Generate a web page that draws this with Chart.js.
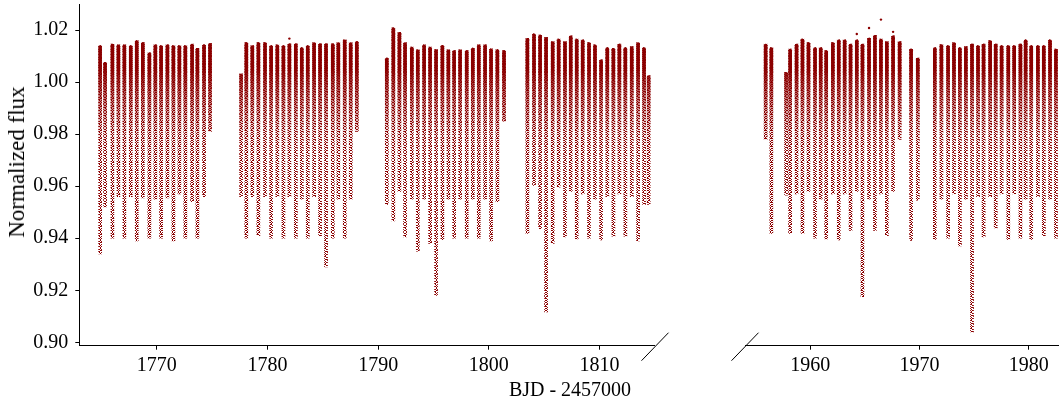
<!DOCTYPE html>
<html>
<head>
<meta charset="utf-8">
<script src="https://cdn.jsdelivr.net/npm/chart.js@4.4.1/dist/chart.umd.min.js"></script>
<style>
  body { margin: 0; background: #fff; width: 1062px; height: 407px; overflow: hidden; position: relative; font-family: "Liberation Serif", serif; }
  #cl { position: absolute; left: 0; top: 0; }
  #cr { position: absolute; left: 700px; top: 0; }
  #xlab { position: absolute; left: 470px; width: 200px; top: 378px; text-align: center; font-size: 20px; color: #000; }
  #ylab { position: absolute; left: 17px; top: 162px; width: 0; height: 0; }
  #ylab span { position: absolute; transform: translate(-50%, -50%) rotate(-90deg); white-space: nowrap; font-size: 23px; color: #000; }
</style>
</head>
<body>
<canvas id="cl" width="700" height="407"></canvas>
<canvas id="cr" width="362" height="407"></canvas>
<div id="xlab">BJD - 2457000</div>
<div id="ylab"><span>Normalized flux</span></div>
<script>
// one entry per pulsation cycle: time of the streak, highest and lowest flux
const leftTimes = [
  1764.88, 1765.33, 1765.99, 1766.53, 1767.07, 1767.65, 1768.19, 1768.74, 1769.33, 1769.87,
  1770.39, 1770.96, 1771.50, 1772.04, 1772.58, 1773.19, 1773.67, 1774.27, 1774.81,
  1777.62, 1778.09, 1778.63, 1779.18, 1779.78, 1780.33, 1780.89, 1781.44, 1781.98, 1782.56,
  1783.10, 1783.64, 1784.21, 1784.75, 1785.29, 1785.90, 1786.40, 1786.98, 1787.52, 1788.07,
  1790.78, 1791.37, 1791.92, 1792.43, 1793.04, 1793.58, 1794.15, 1794.69, 1795.23, 1795.80,
  1796.34, 1796.86, 1797.40, 1798.00, 1798.55, 1799.09, 1799.66, 1800.20, 1800.77, 1801.37,
  1803.48, 1804.08, 1804.63, 1805.17, 1805.77, 1806.31, 1806.88, 1807.40, 1807.94, 1808.48,
  1809.05, 1809.59, 1810.14, 1810.70, 1811.25, 1811.79, 1812.33, 1812.91, 1813.48, 1814.02, 1814.44
];
const leftMax = [
  1.0140, 1.0076, 1.0146, 1.0143, 1.0143, 1.0140, 1.0159, 1.0152, 1.0112, 1.0143,
  1.0140, 1.0143, 1.0140, 1.0140, 1.0140, 1.0146, 1.0130, 1.0143, 1.0149,
  1.0032, 1.0152, 1.0140, 1.0152, 1.0152, 1.0140, 1.0143, 1.0140, 1.0147, 1.0147,
  1.0133, 1.0140, 1.0152, 1.0147, 1.0147, 1.0147, 1.0152, 1.0162, 1.0152, 1.0156,
  1.0092, 1.0208, 1.0191, 1.0152, 1.0134, 1.0124, 1.0143, 1.0134, 1.0125, 1.0141,
  1.0124, 1.0121, 1.0124, 1.0121, 1.0131, 1.0143, 1.0143, 1.0128, 1.0125, 1.0121,
  1.0168, 1.0185, 1.0181, 1.0172, 1.0156, 1.0165, 1.0156, 1.0178, 1.0165, 1.0162,
  1.0152, 1.0143, 1.0085, 1.0133, 1.0130, 1.0146, 1.0133, 1.0136, 1.0152, 1.0133, 1.0025
];
const leftMin = [
  0.934, 0.952, 0.940, 0.956, 0.940, 0.956, 0.939, 0.9555, 0.940, 0.955,
  0.940, 0.9555, 0.939, 0.957, 0.940, 0.954, 0.940, 0.956, 0.981,
  0.956, 0.940, 0.956, 0.941, 0.956, 0.940, 0.956, 0.940, 0.956, 0.940,
  0.955, 0.940, 0.956, 0.941, 0.929, 0.940, 0.955, 0.940, 0.955, 0.981,
  0.953, 0.9466, 0.958, 0.9405, 0.955, 0.935, 0.955, 0.938, 0.918, 0.9394,
  0.955, 0.940, 0.955, 0.940, 0.955, 0.940, 0.955, 0.939, 0.954, 0.985,
  0.9418, 0.9603, 0.9437, 0.9117, 0.938, 0.9596, 0.9405, 0.958, 0.9397, 0.957,
  0.940, 0.955, 0.9393, 0.956, 0.9408, 0.957, 0.9408, 0.956, 0.939, 0.953, 0.953
];

const rightTimes = [
  1955.93, 1956.45,
  1957.80, 1958.17, 1958.76, 1959.30, 1959.85, 1960.45, 1960.97, 1961.47, 1962.08, 1962.62,
  1963.16, 1963.70, 1964.27, 1964.79, 1965.39, 1965.93, 1966.48, 1967.02, 1967.59, 1968.19,
  1969.24, 1969.85,
  1971.41, 1972.01, 1972.62, 1973.16, 1973.70, 1974.25, 1974.81, 1975.36, 1975.87, 1976.47,
  1976.98, 1977.52, 1978.13, 1978.67, 1979.24, 1979.72, 1980.23, 1980.84, 1981.38, 1981.95, 1982.49
];
const rightMax = [
  1.0146, 1.0133,
  1.0037, 1.0127, 1.0146, 1.0165, 1.0152, 1.0133, 1.0133, 1.0121, 1.0152, 1.0162,
  1.0162, 1.0146, 1.0162, 1.0146, 1.0169, 1.0180, 1.0165, 1.0156, 1.0178, 1.0156,
  1.0127, 1.0092,
  1.0133, 1.0144, 1.0140, 1.0152, 1.0133, 1.0136, 1.0146, 1.0140, 1.0146, 1.0159,
  1.0146, 1.0140, 1.0140, 1.0140, 1.0146, 1.0162, 1.0140, 1.0140, 1.0140, 1.0162, 1.0127
];
const rightMin = [
  0.978, 0.9418,
  0.9565, 0.9418, 0.957, 0.9418, 0.958, 0.940, 0.955, 0.9397, 0.957, 0.9393,
  0.957, 0.943, 0.958, 0.9175, 0.955, 0.943, 0.957, 0.941, 0.958, 0.978,
  0.9392, 0.9546,
  0.9395, 0.955, 0.940, 0.957, 0.937, 0.955, 0.904, 0.956, 0.9405, 0.956,
  0.944, 0.957, 0.9395, 0.957, 0.940, 0.955, 0.9395, 0.956, 0.941, 0.955, 0.940
];

// stray points above the pulsation peaks
const leftOutT = [1781.98];
const leftOutF = [1.0167];
const rightOutT = [1964.27, 1965.39, 1966.48, 1967.59];
const rightOutF = [1.0185, 1.0208, 1.0240, 1.0193];

const xTicksLeft = [1770, 1780, 1790, 1800, 1810];
const xTicksRight = [1960, 1970, 1980];
const yTicks = [0.90, 0.92, 0.94, 0.96, 0.98, 1.00, 1.02];

const RED = '139,0,0';
const tickFont = { family: 'Liberation Serif', size: 20 };

// dotted texture for the sparse lower part of each streak
function makeDots() {
  const c = document.createElement('canvas');
  c.width = 6; c.height = 8;
  const g = c.getContext('2d');
  g.fillStyle = 'rgb(' + RED + ')';
  const rows = [[0,1,4],[2,3,5],[0,4,5],[1,2,3],[0,3,5],[1,4],[0,2,3,5],[1,4]];
  rows.forEach((r, y) => r.forEach(x => g.fillRect(x, y, 1, 1)));
  return c;
}
const dotTile = makeDots();

function dotFill(context) {
  const chart = context.chart;
  if (!chart._dotPat) chart._dotPat = chart.ctx.createPattern(dotTile, 'repeat');
  return chart._dotPat;
}

// solid upper part that fades out towards the minima
function denseFill(context) {
  const chart = context.chart;
  if (!chart.chartArea) return 'rgba(' + RED + ',0.8)';
  if (chart._denseGrad) return chart._denseGrad;
  const y = chart.scales.y;
  const g = chart.ctx.createLinearGradient(0, y.getPixelForValue(1.02), 0, y.getPixelForValue(0.97));
  g.addColorStop(0, 'rgba(' + RED + ',1)');
  g.addColorStop(0.3, 'rgba(' + RED + ',1)');
  g.addColorStop(0.55, 'rgba(' + RED + ',0.5)');
  g.addColorStop(0.8, 'rgba(' + RED + ',0.1)');
  g.addColorStop(1, 'rgba(' + RED + ',0)');
  chart._denseGrad = g;
  return g;
}

const breakMarks = {
  id: 'breakMarks',
  afterDraw(chart, args, opts) {
    const { ctx, chartArea } = chart;
    const x = opts.side === 'right' ? chartArea.right + 1 : chartArea.left;
    const y = chartArea.bottom + 1;
    ctx.save();
    ctx.strokeStyle = '#000';
    ctx.lineWidth = 1;
    ctx.beginPath();
    ctx.moveTo(x - 13.5, y + 14);
    ctx.lineTo(x + 13.5, y - 14);
    ctx.stroke();
    ctx.restore();
  }
};

function noPad(s) {
  s.paddingLeft = 0; s.paddingRight = 0; s.paddingTop = 0; s.paddingBottom = 0;
}

function makePanel(id, times, maxs, mins, outT, outF, xmin, xmax, xticks, side) {
  const bars = times.map((t, i) => ({ x: t, y: [mins[i], maxs[i]] }));
  const outs = outT.map((t, i) => ({ x: t, y: outF[i] }));
  const isLeft = side === 'right';
  return new Chart(document.getElementById(id), {
    type: 'bar',
    data: {
      datasets: [
        { data: bars, backgroundColor: dotFill, borderWidth: 0, barThickness: 3, grouped: false },
        { data: bars, backgroundColor: denseFill, borderWidth: 0, barThickness: 3, grouped: false,
          borderSkipped: false, borderRadius: { topLeft: 1.5, topRight: 1.5, bottomLeft: 0, bottomRight: 0 } },
        {
          type: 'line',
          data: outs,
          showLine: false,
          pointRadius: 1.2,
          pointBackgroundColor: 'rgb(' + RED + ')',
          pointBorderWidth: 0
        }
      ]
    },
    options: {
      responsive: false,
      animation: false,
      events: [],
      layout: { padding: isLeft ? { top: 3.3, right: 46, left: 0, bottom: 0 } : { top: 3.3, right: 0, left: 45, bottom: 0 } },
      plugins: { legend: { display: false }, tooltip: { enabled: false }, breakMarks: { side: side } },
      scales: {
        x: {
          type: 'linear',
          min: xmin,
          max: xmax,
          offset: false,
          afterBuildTicks: s => { s.ticks = xticks.map(v => ({ value: v })); },
          afterFit: s => { s.height = 61.3; noPad(s); },
          grid: { display: true, offset: false, drawOnChartArea: false, drawTicks: true, tickLength: 4, tickColor: '#000', tickWidth: 1 },
          border: { display: true, color: '#000', width: 1 },
          ticks: { font: tickFont, color: '#000', padding: 4, maxRotation: 0, autoSkip: false, callback: v => String(v) }
        },
        y: {
          display: isLeft,
          min: 0.8987,
          max: 1.0300,
          afterBuildTicks: s => { s.ticks = yTicks.map(v => ({ value: v })); },
          afterFit: s => { s.width = isLeft ? 79.3 : 0; noPad(s); },
          grid: { display: true, drawOnChartArea: false, drawTicks: true, tickLength: 4, tickColor: '#000', tickWidth: 1 },
          border: { display: true, color: '#000', width: 1 },
          ticks: { font: tickFont, color: '#000', padding: 7, callback: v => v.toFixed(2) }
        }
      }
    },
    plugins: [breakMarks]
  });
}

makePanel('cl', leftTimes, leftMax, leftMin, leftOutT, leftOutF, 1763.0, 1814.92, xTicksLeft, 'right');
makePanel('cr', rightTimes, rightMax, rightMin, rightOutT, rightOutF, 1954.04, 1982.68, xTicksRight, 'left');
</script>
</body>
</html>
